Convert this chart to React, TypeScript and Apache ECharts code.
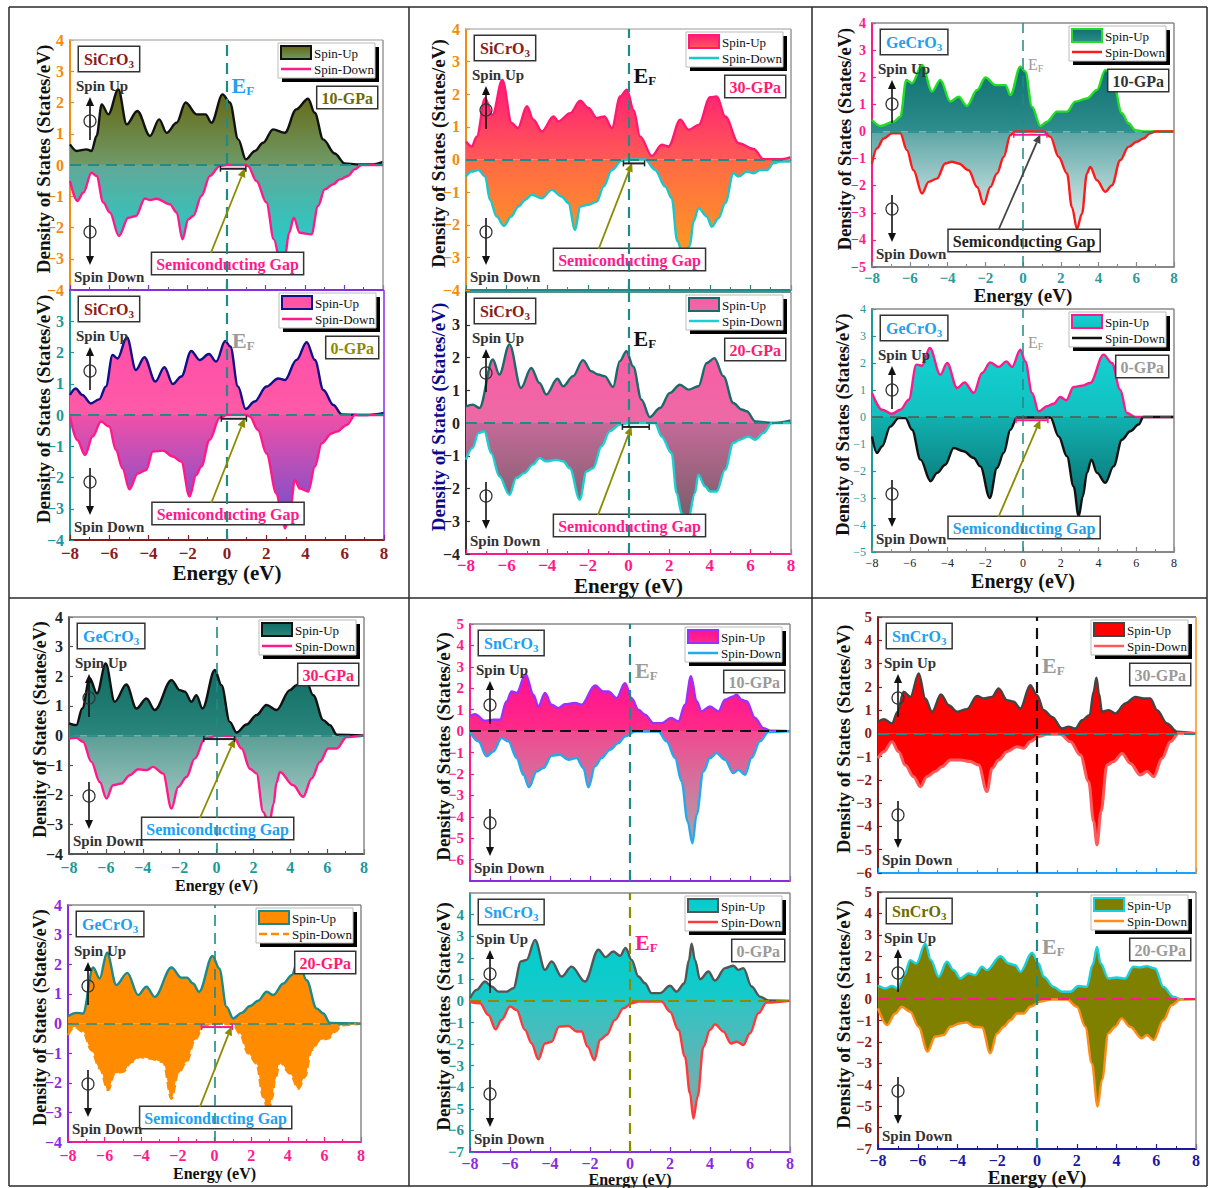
import React, { useEffect, useRef } from "react";
import * as echarts from "echarts";

type Pt = [number, number];
type Fill = string | [string, string];

const SERIF = "'Liberation Serif', 'Times New Roman', Times, serif";

// shared energy axis (eV)
const energyTicks = [-8, -6, -4, -2, 0, 2, 4, 6, 8];
// DOS axis ranges (States/eV)
const dosRange4 = [-4, 4];
const dosRange45 = [-5, 4];
const dosRange57 = [-7, 5];
const dosRange56 = [-6, 5];

// ---------- SiCrO3 ----------
const siCrO3_10_up: Pt[] = [[-8,0.66],[-7.66,0.45],[-7.15,0.5],[-6.9,0.45],[-6.64,0.93],[-6.38,1.94],[-6.04,1.62],[-5.53,2.42],[-5.1,1.3],[-4.56,1.73],[-3.91,0.93],[-3.44,1.46],[-3.06,1.03],[-2.55,1.35],[-2.09,2.0],[-1.53,1.62],[-1.07,1.62],[-0.77,1.35],[-0.2,2.26],[0.17,2.0],[0.6,0.82],[0.99,0.18],[1.45,0.45],[1.87,0.71],[2.38,1.14],[2.98,1.03],[3.57,1.78],[4.17,2.12],[4.51,1.67],[4.94,0.82],[5.53,0.37],[6.04,0.05],[6.64,0.02],[7.5,0.02],[8,0.1]];
const siCrO3_10_down: Pt[] = [[-8,-0.51],[-7.63,-1.15],[-7.32,-0.89],[-6.9,-0.25],[-6.64,-0.35],[-6.3,-1.2],[-5.96,-1.52],[-5.5,-2.27],[-5.02,-1.69],[-4.63,-1.63],[-4.17,-1.07],[-3.91,-1.12],[-3.57,-1.08],[-2.89,-1.26],[-2.55,-1.52],[-2.25,-2.38],[-1.96,-1.74],[-1.7,-1.63],[-1.28,-0.99],[-0.85,-0.35],[-0.34,-0.03],[0,0],[1.0,0],[1.1,-0.03],[1.53,-0.51],[2.04,-1.2],[2.42,-2.38],[2.75,-3.1],[2.98,-2.95],[3.2,-2.17],[3.44,-1.69],[3.74,-2.17],[4.34,-2.22],[4.68,-1.31],[5.02,-0.78],[5.45,-0.62],[5.79,-0.46],[6.21,-0.35],[6.55,-0.14],[6.9,0],[8,0]];
const siCrO3_0_up: Pt[] = [[-8,0.64],[-7.71,0.85],[-7.37,0.64],[-6.94,0.37],[-6.51,0.5],[-6.17,0.91],[-5.83,1.92],[-5.58,1.81],[-5.1,2.49],[-4.64,1.44],[-4.21,1.85],[-3.65,1.07],[-3.19,1.53],[-2.76,0.99],[-2.33,1.23],[-1.82,2.05],[-1.4,1.76],[-0.92,1.95],[-0.55,1.71],[-0.09,2.37],[0.17,2.19],[0.56,0.91],[0.95,0.19],[1.41,0.43],[2.01,0.91],[2.61,1.17],[2.95,1.12],[3.54,1.76],[4.06,2.33],[4.48,1.76],[4.91,0.8],[5.42,0.32],[5.84,0.02],[7.12,0],[8,0.07]];
const siCrO3_0_down: Pt[] = [[-8,-0.05],[-7.63,-0.8],[-7.23,-1.28],[-6.85,-0.69],[-6.42,-0.21],[-6.0,-0.37],[-5.66,-1.12],[-5.32,-1.71],[-4.97,-2.38],[-4.55,-1.87],[-4.12,-1.76],[-3.78,-1.17],[-3.27,-1.14],[-2.76,-1.33],[-2.33,-1.49],[-1.91,-2.61],[-1.57,-1.92],[-1.31,-1.65],[-0.89,-0.8],[-0.37,-0.09],[0,0],[1.0,0],[1.16,-0.05],[1.58,-0.48],[2.01,-1.23],[2.52,-2.51],[2.78,-3.15],[2.95,-3.63],[3.2,-3.15],[3.46,-2.08],[3.71,-2.35],[4.14,-2.45],[4.48,-1.65],[4.82,-0.91],[5.33,-0.59],[5.59,-0.53],[6.1,-0.32],[6.53,0],[8,0]];
const siCrO3_30_up: Pt[] = [[-8,0.55],[-7.72,0.4],[-7.47,0.7],[-7.06,1.88],[-6.7,1.37],[-6.21,2.44],[-5.75,1.12],[-5.45,0.96],[-5.0,1.63],[-4.68,1.22],[-4.27,0.86],[-3.69,1.32],[-3.45,1.17],[-2.87,1.42],[-2.38,1.8],[-1.97,1.58],[-1.56,1.27],[-1.18,1.32],[-0.82,0.96],[-0.41,1.93],[-0.08,2.14],[0.25,1.52],[0.57,0.71],[1.15,0.11],[1.64,0.45],[1.97,0.4],[2.55,1.22],[2.96,0.91],[3.45,1.06],[4.02,1.91],[4.35,1.93],[4.76,1.32],[5.42,0.5],[6.16,0.32],[6.65,0.01],[7.55,0.01],[8,0.07]];
const siCrO3_30_down: Pt[] = [[-8,-0.52],[-7.72,-0.37],[-7.39,-0.32],[-7.06,-0.52],[-6.82,-1.24],[-6.49,-1.75],[-6.13,-2.04],[-5.78,-1.75],[-5.42,-1.44],[-5.09,-1.24],[-4.76,-1.08],[-4.27,-1.19],[-3.78,-0.93],[-3.28,-1.14],[-2.96,-1.34],[-2.63,-2.16],[-2.38,-1.44],[-1.97,-1.39],[-1.56,-1.29],[-1.23,-0.83],[-0.82,-0.32],[-0.33,-0.03],[0,0],[0.82,0],[1.31,-0.32],[1.81,-0.83],[2.13,-1.19],[2.4,-2.5],[2.72,-3.0],[3.02,-2.65],[3.2,-1.9],[3.45,-1.49],[3.86,-1.75],[4.1,-2.06],[4.43,-1.8],[4.76,-1.34],[5.17,-0.42],[5.42,-0.52],[5.83,-0.37],[6.16,-0.42],[6.49,-0.32],[6.82,-0.32],[7.14,-0.11],[7.47,-0.06],[8,-0.06]];
const siCrO3_20_up: Pt[] = [[-8,0.51],[-7.67,0.56],[-7.34,0.46],[-6.68,1.94],[-6.36,1.48],[-5.86,2.4],[-5.29,1.07],[-4.79,1.68],[-4.38,1.22],[-4.05,0.87],[-3.5,1.35],[-3.22,1.12],[-2.73,1.43],[-2.24,1.92],[-1.83,1.58],[-1.5,1.48],[-1.17,1.43],[-0.76,1.1],[-0.43,1.89],[-0.1,2.19],[0.23,1.73],[0.64,0.71],[1.05,0.18],[1.55,0.46],[2.04,0.92],[2.53,1.17],[2.95,1.02],[3.44,1.12],[3.85,1.83],[4.23,1.98],[4.67,1.43],[5.16,0.61],[5.57,0.41],[5.82,0.36],[6.24,0.05],[7.06,0],[8,0.08]];
const siCrO3_20_down: Pt[] = [[-8,-1.12],[-7.67,-0.76],[-7.39,-0.31],[-7.1,-0.25],[-6.76,-0.92],[-6.36,-1.63],[-5.86,-2.19],[-5.53,-1.68],[-5.13,-1.53],[-4.71,-1.27],[-4.38,-1.07],[-4.05,-1.17],[-3.55,-1.12],[-3.22,-1.17],[-2.89,-1.38],[-2.4,-2.34],[-2.07,-1.48],[-1.74,-1.38],[-1.33,-0.71],[-0.92,-0.25],[-0.43,-0.05],[0,0],[1.3,0],[1.63,-0.41],[2.12,-0.92],[2.37,-2.14],[2.62,-2.76],[2.95,-2.9],[3.27,-2.14],[3.44,-1.58],[3.77,-1.94],[4.01,-2.09],[4.34,-2.09],[4.75,-1.43],[5.16,-0.61],[5.49,-0.51],[5.9,-0.41],[6.23,-0.51],[6.64,-0.31],[7.06,0],[8,0]];

// ---------- GeCrO3 ----------
const geCrO3_10_up: Pt[] = [[-8,0.42],[-7.56,0.2],[-6.85,0.36],[-6.5,0.54],[-6.18,1.9],[-5.88,1.78],[-5.35,2.45],[-4.82,1.47],[-4.38,1.9],[-3.85,1.1],[-3.41,1.28],[-2.97,0.94],[-2.43,1.53],[-1.99,1.99],[-1.46,1.71],[-0.93,1.71],[-0.67,1.34],[-0.14,2.39],[0.12,2.21],[0.48,0.91],[0.92,0.2],[1.27,0.36],[1.8,0.73],[2.33,0.73],[2.77,1.1],[3.39,1.22],[3.92,1.53],[4.36,2.27],[4.71,2.08],[5.24,0.67],[5.59,0.3],[5.94,0.05],[6.38,0],[8,0]];
const geCrO3_10_down: Pt[] = [[-8,-1.18],[-7.74,-0.63],[-7.38,-0.26],[-6.94,-0.07],[-6.5,-0.07],[-6.15,-0.69],[-5.8,-1.43],[-5.35,-2.29],[-5.0,-1.86],[-4.56,-1.74],[-4.12,-1.18],[-3.77,-1.12],[-3.41,-1.18],[-2.88,-1.43],[-2.43,-2.05],[-2.08,-2.69],[-1.73,-2.05],[-1.38,-1.55],[-1.02,-0.94],[-0.67,-0.14],[-0.41,0],[1.09,0],[1.45,-0.2],[1.89,-0.94],[2.33,-1.55],[2.59,-2.79],[2.86,-3.59],[3.12,-3.04],[3.39,-1.55],[3.56,-1.31],[3.92,-1.8],[4.36,-2.23],[4.71,-1.99],[5.15,-1.06],[5.59,-0.57],[6.03,-0.38],[6.38,-0.26],[6.73,-0.07],[7.0,0],[8,0]];
const geCrO3_0_up: Pt[] = [[-8,0.89],[-7.47,0.27],[-6.94,0.12],[-6.5,0.27],[-6.05,0.64],[-5.65,1.94],[-5.35,1.9],[-4.94,2.56],[-4.38,1.57],[-4.02,2.0],[-3.49,1.07],[-3.1,1.28],[-2.61,0.89],[-2.17,1.63],[-1.73,2.02],[-1.29,1.85],[-0.88,2.06],[-0.58,1.85],[-0.14,2.49],[0.12,2.06],[0.48,0.89],[0.83,0.21],[1.27,0.4],[1.62,0.49],[1.98,0.74],[2.29,0.62],[2.68,1.11],[3.12,1.16],[3.56,1.26],[4.27,2.31],[4.71,2.0],[5.15,1.01],[5.5,0.15],[5.94,0],[8,0]];
const geCrO3_0_down: Pt[] = [[-8,-0.72],[-7.74,-1.33],[-7.47,-1.09],[-7.03,-0.35],[-6.59,-0.04],[-6.23,-0.04],[-5.88,-0.47],[-5.43,-1.58],[-4.9,-2.38],[-4.55,-2.07],[-4.12,-1.77],[-3.67,-1.15],[-3.15,-1.27],[-2.61,-1.52],[-2.26,-1.83],[-1.76,-3.0],[-1.38,-1.89],[-1.02,-1.33],[-0.67,-0.47],[-0.32,-0.02],[1.45,-0.02],[1.89,-0.72],[2.33,-1.46],[2.68,-2.57],[2.95,-3.68],[3.17,-2.94],[3.39,-2.07],[3.62,-1.58],[3.92,-2.07],[4.36,-2.44],[4.8,-1.83],[5.24,-0.84],[5.68,-0.53],[6.12,-0.28],[6.38,0],[8,0]];
const geCrO3_30_up: Pt[] = [[-8,0.41],[-7.6,0.35],[-7.28,0.91],[-6.88,1.93],[-6.48,1.42],[-6.01,2.43],[-5.52,1.14],[-4.89,1.72],[-4.34,0.91],[-3.8,1.25],[-3.35,0.86],[-2.44,1.87],[-1.99,1.53],[-1.72,1.48],[-1.36,1.14],[-1.09,1.36],[-0.76,0.91],[-0.09,2.21],[0.27,1.7],[0.72,0.46],[1.09,0.1],[1.63,0.37],[2.17,0.69],[2.71,1.03],[3.26,0.86],[3.98,1.53],[4.34,1.7],[4.74,2.1],[5.25,1.36],[5.79,0.52],[6.15,0.35],[6.52,0.03],[8,0]];
const geCrO3_30_down: Pt[] = [[-8,-0.1],[-7.6,-0.08],[-7.24,-0.21],[-6.79,-0.89],[-6.33,-1.57],[-5.97,-2.13],[-5.61,-1.68],[-5.16,-1.62],[-4.71,-1.34],[-4.25,-1.14],[-3.8,-1.17],[-3.44,-1.06],[-2.9,-1.28],[-2.44,-2.47],[-2.08,-1.74],[-1.63,-1.4],[-1.18,-0.78],[-0.63,-0.1],[0,-0.02],[0.9,-0.02],[1.36,-0.44],[1.81,-1.12],[2.17,-1.28],[2.53,-2.58],[2.85,-3.0],[3.1,-2.3],[3.25,-1.6],[3.44,-1.23],[4.16,-1.68],[4.7,-2.07],[5.16,-1.45],[5.61,-0.89],[6.06,-0.44],[6.52,-0.44],[7.06,-0.05],[8,0]];
const geCrO3_20_up: Pt[] = [[-8,0.25],[-7.54,0.36],[-7.18,0.34],[-6.63,1.89],[-6.27,1.52],[-5.87,2.39],[-5.36,1.3],[-4.76,1.71],[-4.17,0.96],[-3.72,1.24],[-3.26,0.9],[-2.35,1.89],[-1.81,1.55],[-1.5,1.55],[-1.17,1.35],[-0.84,1.07],[-0.11,2.28],[0.26,1.86],[0.66,0.56],[1.02,0.17],[1.48,0.36],[1.94,0.59],[2.39,0.77],[2.85,1.07],[3.21,0.96],[3.76,1.35],[4.21,1.63],[4.58,2.16],[5.03,1.46],[5.57,0.51],[5.94,0.34],[6.3,0.02],[8,0]];
const geCrO3_20_down: Pt[] = [[-8,-0.39],[-7.64,-0.11],[-7.18,-0.28],[-6.72,-0.9],[-6.27,-1.52],[-5.81,-2.25],[-5.45,-1.69],[-4.99,-1.63],[-4.53,-1.3],[-4.08,-1.13],[-3.53,-1.18],[-2.8,-1.3],[-2.35,-2.54],[-1.98,-1.69],[-1.53,-1.3],[-1.07,-0.56],[-0.62,-0.11],[0,-0.02],[1.02,-0.02],[1.38,-0.34],[1.84,-1.01],[2.29,-1.35],[2.66,-2.48],[2.95,-3.0],[3.15,-2.5],[3.3,-1.92],[3.57,-1.3],[4.12,-1.69],[4.58,-2.2],[4.94,-1.8],[5.3,-0.9],[5.76,-0.56],[6.21,-0.51],[6.58,-0.28],[6.94,-0.06],[8,0]];

// ---------- SnCrO3 ----------
const snCrO3_10_up: Pt[] = [[-8,0.69],[-7.75,0.79],[-7.25,0.48],[-6.83,0.53],[-6.5,0.53],[-6.17,1.39],[-5.92,1.85],[-5.67,1.78],[-5.22,2.66],[-4.83,1.7],[-4.58,1.15],[-4.25,1.78],[-3.92,1.23],[-3.58,1.08],[-3.25,1.26],[-2.75,1.31],[-2.42,1.23],[-1.75,2.13],[-1.33,1.85],[-1.08,1.85],[-0.67,1.54],[-0.25,2.24],[0.08,1.54],[0.42,1.0],[0.75,0.76],[1.17,0.37],[1.58,0.37],[2.05,0.61],[2.42,0.45],[2.75,1.23],[3.05,2.56],[3.33,1.39],[3.58,0.92],[4.0,1.15],[4.42,0.92],[4.75,1.46],[5.17,1.62],[5.33,1.7],[5.58,1.46],[5.83,1.39],[6.25,0.61],[6.67,0.14],[7.0,0.02],[8,0]];
const snCrO3_10_down: Pt[] = [[-8,-0.05],[-7.58,-0.48],[-7.17,-1.18],[-6.83,-0.95],[-6.42,-0.33],[-6.08,-0.48],[-5.67,-1.26],[-5.33,-2.04],[-5.05,-2.62],[-4.67,-1.89],[-4.33,-1.73],[-3.92,-1.15],[-3.5,-1.11],[-3.08,-1.34],[-2.67,-1.26],[-2.33,-1.73],[-2.08,-2.63],[-1.75,-1.65],[-1.42,-1.26],[-1.0,-0.87],[-0.58,-0.56],[-0.25,-0.25],[0.25,-0.02],[1.42,-0.02],[1.83,-0.48],[2.25,-1.26],[2.58,-2.35],[2.88,-4.22],[3.12,-5.24],[3.33,-3.91],[3.67,-1.89],[4.0,-1.26],[4.33,-1.03],[4.75,-1.34],[5.17,-1.96],[5.42,-1.81],[5.75,-2.04],[6.08,-1.26],[6.5,-0.48],[6.92,-0.05],[8,0]];
const snCrO3_0_up: Pt[] = [[-8,0.12],[-7.67,0.51],[-7.25,0.9],[-6.92,0.67],[-6.58,0.43],[-6.17,0.43],[-5.83,0.59],[-5.45,1.83],[-5.17,1.9],[-4.75,2.83],[-4.25,1.44],[-3.92,1.83],[-3.42,1.13],[-2.92,1.59],[-2.25,0.9],[-1.58,2.37],[-1.22,2.03],[-0.83,2.29],[-0.5,2.09],[-0.22,2.45],[0.08,1.9],[0.42,1.13],[0.75,0.82],[1.08,0.36],[1.5,0.36],[2.0,0.7],[2.33,0.43],[2.72,0.82],[2.95,1.9],[3.08,2.65],[3.25,1.9],[3.5,1.0],[3.92,1.36],[4.25,0.94],[4.75,1.52],[5.17,1.63],[5.42,1.44],[5.67,1.52],[6.08,0.67],[6.5,0.2],[6.92,0.02],[8,0]];
const snCrO3_0_down: Pt[] = [[-8,-0.05],[-7.5,-0.11],[-7.08,-0.65],[-6.72,-1.32],[-6.42,-0.88],[-6.0,-0.26],[-5.67,-0.42],[-5.25,-1.35],[-4.92,-1.97],[-4.58,-2.71],[-4.25,-1.97],[-3.92,-1.89],[-3.55,-1.19],[-3.08,-1.16],[-2.67,-1.42],[-2.42,-1.42],[-2.12,-2.12],[-1.78,-2.74],[-1.5,-1.81],[-1.17,-1.58],[-0.75,-0.88],[-0.33,-0.34],[0.08,-0.11],[0.42,-0.03],[1.58,-0.03],[2.0,-0.5],[2.42,-1.35],[2.75,-2.59],[3.0,-4.29],[3.17,-5.45],[3.38,-4.44],[3.67,-2.12],[4.0,-1.35],[4.25,-1.08],[4.67,-1.42],[5.05,-1.97],[5.33,-1.89],[5.67,-2.04],[6.0,-1.5],[6.42,-0.57],[6.83,-0.08],[8,0]];
const snCrO3_30_up: Pt[] = [[-8,0.5],[-7.71,0.61],[-7.3,0.43],[-7.01,0.93],[-6.71,1.79],[-6.37,1.57],[-5.95,2.57],[-5.62,1.5],[-5.28,0.93],[-4.83,1.67],[-4.44,1.21],[-4.02,0.93],[-3.52,1.04],[-3.02,1.61],[-2.68,1.5],[-2.26,1.57],[-1.93,1.93],[-1.51,1.43],[-1.17,1.36],[-0.84,1.07],[-0.34,2.07],[0,1.64],[0.34,1.0],[0.76,0.71],[1.26,0.21],[1.59,0.29],[1.93,0.21],[2.27,0.57],[2.65,0.79],[2.85,1.8],[2.99,2.39],[3.12,1.7],[3.27,0.93],[3.61,1.0],[3.94,0.86],[4.45,1.29],[4.95,1.57],[5.37,1.5],[5.7,1.5],[6.04,1.0],[6.54,0.43],[7.05,0.07],[8,0]];
const snCrO3_30_down: Pt[] = [[-8,-1.07],[-7.71,-0.79],[-7.3,-0.36],[-6.96,-0.79],[-6.63,-1.36],[-6.21,-1.86],[-5.87,-2.29],[-5.54,-1.86],[-5.12,-1.64],[-4.78,-1.43],[-4.36,-1.14],[-3.86,-1.14],[-3.36,-1.21],[-2.94,-1.36],[-2.52,-2.5],[-2.26,-1.5],[-1.93,-1.14],[-1.51,-0.79],[-1.01,-0.57],[-0.67,-0.64],[-0.34,-0.36],[0.08,-0.14],[0.5,-0.04],[1.17,-0.04],[1.68,-0.36],[2.18,-0.93],[2.6,-2.07],[2.85,-3.79],[3.02,-4.79],[3.22,-3.36],[3.52,-1.36],[3.86,-1.21],[4.28,-0.86],[4.7,-1.29],[5.2,-1.79],[5.54,-1.64],[5.87,-1.86],[6.29,-1.07],[6.71,-0.36],[7.13,0],[8,0]];
const snCrO3_20_up: Pt[] = [[-8,0.65],[-7.63,0.5],[-7.3,0.61],[-7.01,0.5],[-6.68,1.12],[-6.38,1.82],[-6.07,1.66],[-5.62,2.59],[-5.34,1.82],[-4.95,1.04],[-4.53,1.74],[-4.19,1.35],[-3.86,0.96],[-3.44,1.2],[-3.11,1.12],[-2.77,1.51],[-2.52,1.35],[-1.84,2.0],[-1.42,1.66],[-1.09,1.58],[-0.84,1.27],[-0.25,2.16],[0.08,1.66],[0.34,1.04],[0.84,0.57],[1.26,0.34],[1.68,0.34],[2.09,0.61],[2.51,0.57],[2.8,1.6],[3.02,2.44],[3.2,1.66],[3.59,0.96],[4.01,1.01],[4.43,0.96],[4.85,1.51],[5.18,1.48],[5.52,1.54],[5.94,1.43],[6.36,0.57],[6.86,0.11],[7.2,0],[8,0]];
const snCrO3_20_down: Pt[] = [[-8,-0.43],[-7.55,-1.21],[-7.13,-0.67],[-6.8,-0.36],[-6.38,-0.59],[-5.96,-1.29],[-5.51,-2.45],[-5.12,-1.75],[-4.7,-1.68],[-4.36,-1.29],[-3.86,-1.13],[-3.53,-1.09],[-3.19,-1.29],[-2.77,-1.32],[-2.35,-2.53],[-2.01,-1.6],[-1.68,-1.29],[-1.34,-0.98],[-1.01,-0.67],[-0.67,-0.67],[-0.34,-0.36],[0.17,-0.12],[0.67,-0.02],[1.51,-0.02],[2.01,-0.36],[2.43,-1.29],[2.76,-3.0],[3.05,-5.02],[3.27,-3.77],[3.59,-1.6],[3.93,-1.29],[4.26,-0.9],[4.68,-1.29],[5.27,-1.83],[5.52,-1.68],[5.86,-1.91],[6.36,-0.98],[6.78,-0.28],[7.2,-0.02],[8,0]];

interface Gap { from: number; to: number; bar: string; text: string; arrow: string; arrowFrom: number; arrowTo: number; top: number }
interface Panel {
  rect: [number, number, number, number];
  yRange: number[];
  up: Pt[]; down: Pt[];
  compound: string; compoundColor: string;
  pressure: string; pressureColor: string;
  upLine: string; downLine: string; downDashed?: boolean; downWidth?: number;
  upFill: Fill; downFill: Fill;
  yColor: string; yLine: string; yLabelSize: number; yLabelBold: boolean; hideTopLabel?: boolean;
  minLabelUp?: boolean; maxLabelDown?: boolean;
  xColor: string; xLine: string; xLabels: boolean; xLabelSize: number; xLabelBold: boolean; xLabelMargin: number;
  topColor: string; rightColor: string;
  efLine: string; zeroLine: string; refWidth: number;
  ef?: { color: string; size: number; bold: boolean; dy: number };
  yTitle: { dx: number; size: number; color: string };
  xTitle?: { y: number; size: number };
  gap?: Gap;
}

const TEAL = "#1f8a86";
const OLIVE = "#8b8b00";
const PINK = "#ff1a8c";
const PURPLE = "#8a2be2";
const MAROON = "#8b1a1a";
const SKY = "#1ea0f0";

const PANELS: Panel[] = [
  { // SiCrO3 10 GPa
    rect: [70, 40, 313, 250], yRange: dosRange4, up: siCrO3_10_up, down: siCrO3_10_down,
    compound: "SiCrO", compoundColor: MAROON, pressure: "10-GPa", pressureColor: "#6b6b00",
    upLine: "#111", downLine: PINK, upFill: ["#66660f", "#6f9a68"], downFill: ["#62a898", "#18d4d4"],
    yColor: "#f08c10", yLine: "#f08c10", yLabelSize: 16, yLabelBold: true,
    xColor: PURPLE, xLine: PURPLE, xLabels: false, xLabelSize: 16, xLabelBold: true, xLabelMargin: 6,
    topColor: "#bbb", rightColor: "#999", efLine: TEAL, zeroLine: TEAL, refWidth: 2.2,
    ef: { color: "#2a9df4", size: 22, bold: true, dy: 33 },
    yTitle: { dx: 27, size: 19, color: "#111" },
    gap: { from: -0.31, to: 0.99, bar: "#222", text: PINK, arrow: OLIVE, arrowFrom: -0.8, arrowTo: 0.94, top: 37 },
  },
  { // SiCrO3 0 GPa
    rect: [70, 290, 314, 250], yRange: dosRange4, up: siCrO3_0_up, down: siCrO3_0_down,
    compound: "SiCrO", compoundColor: MAROON, pressure: "0-GPa", pressureColor: OLIVE,
    upLine: "#10108a", downLine: PINK, upFill: ["#ff4fa8", "#ff5aa8"], downFill: ["#f050a8", "#6a4fd0"],
    yColor: "#1a9a9a", yLine: "#1a9a9a", yLabelSize: 16, yLabelBold: true, hideTopLabel: true,
    xColor: MAROON, xLine: MAROON, xLabels: true, xLabelSize: 17, xLabelBold: true, xLabelMargin: 5,
    topColor: PURPLE, rightColor: PURPLE, efLine: TEAL, zeroLine: TEAL, refWidth: 2.2,
    ef: { color: "#9a9a9a", size: 22, bold: true, dy: 38 },
    yTitle: { dx: 27, size: 19, color: "#111" },
    xTitle: { y: 573, size: 21 },
    gap: { from: -0.29, to: 0.99, bar: "#222", text: PINK, arrow: OLIVE, arrowFrom: -0.8, arrowTo: 0.9, top: 37 },
  },
  { // SiCrO3 30 GPa
    rect: [466, 29, 325, 261], yRange: dosRange4, up: siCrO3_30_up, down: siCrO3_30_down,
    compound: "SiCrO", compoundColor: MAROON, pressure: "30-GPa", pressureColor: "#ff1a70",
    upLine: "#ff1a70", downLine: "#1ac8c8", upFill: ["#ff1a78", "#ff5a55"], downFill: ["#ff6a45", "#ff9a20"],
    yColor: "#f08c10", yLine: "#f08c10", yLabelSize: 16, yLabelBold: true,
    xColor: TEAL, xLine: TEAL, xLabels: false, xLabelSize: 16, xLabelBold: true, xLabelMargin: 6,
    topColor: "#bbb", rightColor: "#999", efLine: TEAL, zeroLine: TEAL, refWidth: 2.2,
    ef: { color: "#111", size: 22, bold: true, dy: 34 },
    yTitle: { dx: 28, size: 19, color: "#111" },
    gap: { from: -0.25, to: 0.79, bar: "#222", text: PINK, arrow: OLIVE, arrowFrom: -1.47, arrowTo: 0.18, top: 41 },
  },
  { // SiCrO3 20 GPa
    rect: [466, 292, 325, 262], yRange: dosRange4, up: siCrO3_20_up, down: siCrO3_20_down,
    compound: "SiCrO", compoundColor: MAROON, pressure: "20-GPa", pressureColor: "#ff1a70",
    upLine: "#1a6a6a", downLine: "#1ad0d0", upFill: ["#ff5aa5", "#ea6aa5"], downFill: ["#c46a98", "#7a5e6a"],
    yColor: "#222", yLine: "#333", yLabelSize: 16, yLabelBold: true, hideTopLabel: true,
    xColor: PINK, xLine: PINK, xLabels: true, xLabelSize: 17, xLabelBold: true, xLabelMargin: 3,
    topColor: "#1a6a6a", rightColor: "#999", efLine: TEAL, zeroLine: TEAL, refWidth: 2.2,
    ef: { color: "#111", size: 22, bold: true, dy: 34 },
    yTitle: { dx: 28, size: 19, color: "#0a0a8a" },
    xTitle: { y: 586, size: 21 },
    gap: { from: -0.3, to: 1.02, bar: "#222", text: PINK, arrow: OLIVE, arrowFrom: -1.5, arrowTo: 0.15, top: 39 },
  },
  { // GeCrO3 10 GPa
    rect: [872, 23, 302, 244], yRange: dosRange45, up: geCrO3_10_up, down: geCrO3_10_down,
    compound: "GeCrO", compoundColor: SKY, pressure: "10-GPa", pressureColor: "#333",
    upLine: "#22dd22", downLine: "#ff1a1a", upFill: ["#0e7070", "#2e8d8d"], downFill: ["#5ea5a5", "#e6f3f3"],
    yColor: PINK, yLine: PINK, yLabelSize: 14, yLabelBold: true,
    xColor: "#2a9a9a", xLine: "#888", xLabels: true, xLabelSize: 15, xLabelBold: true, xLabelMargin: 3,
    topColor: "#888", rightColor: "#888", efLine: TEAL, zeroLine: TEAL, refWidth: 1.5,
    ef: { color: "#9a9a9a", size: 16, bold: false, dy: 32 },
    yTitle: { dx: 27, size: 18.5, color: "#111" },
    xTitle: { y: 295, size: 19 },
    gap: { from: -0.49, to: 1.27, bar: PINK, text: "#222", arrow: "#444", arrowFrom: -1.3, arrowTo: 0.92, top: 37 },
  },
  { // GeCrO3 0 GPa
    rect: [872, 309, 302, 243], yRange: dosRange45, up: geCrO3_0_up, down: geCrO3_0_down,
    compound: "GeCrO", compoundColor: SKY, pressure: "0-GPa", pressureColor: "#9a9a9a",
    upLine: PINK, downLine: "#111", upFill: ["#14d2d2", "#12c0c0"], downFill: ["#12b0b0", "#086868"],
    yColor: "#1a9a9a", yLine: "#1a9a9a", yLabelSize: 12, yLabelBold: false,
    xColor: "#222", xLine: "#888", xLabels: true, xLabelSize: 12, xLabelBold: false, xLabelMargin: 5,
    topColor: "#888", rightColor: "#888", efLine: TEAL, zeroLine: "#555", refWidth: 1.5,
    ef: { color: "#9a9a9a", size: 16, bold: false, dy: 24 },
    yTitle: { dx: 29, size: 18.5, color: "#111" },
    xTitle: { y: 581, size: 20 },
    gap: { from: -0.37, to: 1.32, bar: PINK, text: SKY, arrow: OLIVE, arrowFrom: -1.3, arrowTo: 0.92, top: 35 },
  },
  { // GeCrO3 30 GPa
    rect: [69, 617, 295, 237], yRange: dosRange4, up: geCrO3_30_up, down: geCrO3_30_down,
    compound: "GeCrO", compoundColor: SKY, pressure: "30-GPa", pressureColor: "#ff1a70",
    upLine: "#111", downLine: PINK, upFill: ["#0e6a62", "#2a857c"], downFill: ["#5c9e96", "#b2d2cc"],
    yColor: "#222", yLine: "#555", yLabelSize: 16, yLabelBold: true,
    xColor: "#1a9a9a", xLine: "#555", xLabels: true, xLabelSize: 16, xLabelBold: true, xLabelMargin: 5,
    topColor: "#888", rightColor: "#888", efLine: TEAL, zeroLine: TEAL, refWidth: 1.6,
    yTitle: { dx: 29, size: 18, color: "#111" },
    xTitle: { y: 885, size: 16 },
    gap: { from: -0.69, to: 0.98, bar: "#222", text: SKY, arrow: OLIVE, arrowFrom: -0.9, arrowTo: 1.0, top: 36 },
  },
  { // GeCrO3 20 GPa
    rect: [68, 905, 293, 237], yRange: dosRange4, up: geCrO3_20_up, down: geCrO3_20_down,
    compound: "GeCrO", compoundColor: SKY, pressure: "20-GPa", pressureColor: "#ff1a70",
    upLine: "#1a8a8a", downLine: "#ff8c00", downDashed: true, upFill: "#ff8c00", downFill: "#ff8c00",
    yColor: PURPLE, yLine: PURPLE, yLabelSize: 16, yLabelBold: true,
    xColor: PINK, xLine: PINK, xLabels: true, xLabelSize: 16, xLabelBold: true, xLabelMargin: 5,
    topColor: "#888", rightColor: "#888", efLine: TEAL, zeroLine: TEAL, refWidth: 1.6,
    yTitle: { dx: 28, size: 18, color: "#111" },
    xTitle: { y: 1173, size: 16 },
    gap: { from: -0.71, to: 0.97, bar: PINK, text: SKY, arrow: OLIVE, arrowFrom: -0.8, arrowTo: 0.93, top: 35 },
  },
  { // SnCrO3 10 GPa
    rect: [470, 624, 320, 257], yRange: dosRange57, up: snCrO3_10_up, down: snCrO3_10_down,
    compound: "SnCrO", compoundColor: SKY, pressure: "10-GPa", pressureColor: "#9a9a9a",
    upLine: "#9b30ff", downLine: "#22aaee", upFill: ["#ff1090", "#ff2a88"], downFill: ["#f04a90", "#b0a2a8"],
    yColor: PINK, yLine: PINK, yLabelSize: 15, yLabelBold: true, minLabelUp: true,
    xColor: PURPLE, xLine: PURPLE, xLabels: false, xLabelSize: 16, xLabelBold: true, xLabelMargin: 5,
    topColor: "#888", rightColor: "#888", efLine: TEAL, zeroLine: "#111", refWidth: 2.2,
    ef: { color: "#9a9a9a", size: 22, bold: true, dy: 34 },
    yTitle: { dx: 27, size: 19, color: "#111" },
  },
  { // SnCrO3 0 GPa
    rect: [470, 893, 320, 259], yRange: dosRange57, up: snCrO3_0_up, down: snCrO3_0_down,
    compound: "SnCrO", compoundColor: SKY, pressure: "0-GPa", pressureColor: "#9a9a9a",
    upLine: "#555", downLine: "#ff3a3a", upFill: ["#00cccc", "#18caca"], downFill: ["#30c4c4", "#8aa6a6"],
    yColor: "#1a9a9a", yLine: "#1a9a9a", yLabelSize: 15, yLabelBold: true, maxLabelDown: true,
    xColor: PURPLE, xLine: PURPLE, xLabels: true, xLabelSize: 16, xLabelBold: true, xLabelMargin: 3,
    topColor: "#888", rightColor: "#888", efLine: OLIVE, zeroLine: OLIVE, refWidth: 2.2,
    ef: { color: PINK, size: 22, bold: true, dy: 37 },
    yTitle: { dx: 27, size: 19, color: "#111" },
    xTitle: { y: 1179, size: 16 },
  },
  { // SnCrO3 30 GPa
    rect: [878, 617, 318, 256], yRange: dosRange56, up: snCrO3_30_up, down: snCrO3_30_down,
    compound: "SnCrO", compoundColor: SKY, pressure: "30-GPa", pressureColor: "#9a9a9a",
    upLine: "#444", downLine: "#ff5a5a", downWidth: 3, upFill: "#ff0000", downFill: "#ff0000",
    yColor: MAROON, yLine: MAROON, yLabelSize: 15, yLabelBold: true,
    xColor: "#1aa0ff", xLine: "#1aa0ff", xLabels: false, xLabelSize: 16, xLabelBold: true, xLabelMargin: 5,
    topColor: "#555", rightColor: "#ff8c1a", efLine: "#111", zeroLine: TEAL, refWidth: 2.2,
    ef: { color: "#9a9a9a", size: 22, bold: true, dy: 36 },
    yTitle: { dx: 35, size: 19, color: "#111" },
  },
  { // SnCrO3 20 GPa
    rect: [878, 892, 318, 257], yRange: dosRange57, up: snCrO3_20_up, down: snCrO3_20_down,
    compound: "SnCrO", compoundColor: "#6b6b00", pressure: "20-GPa", pressureColor: "#9a9a9a",
    upLine: "#18d0e0", downLine: "#ff8c1a", upFill: "#808000", downFill: "#808000",
    yColor: MAROON, yLine: MAROON, yLabelSize: 15, yLabelBold: true,
    xColor: "#1a1aa0", xLine: "#1a1aa0", xLabels: true, xLabelSize: 16, xLabelBold: true, xLabelMargin: 3,
    topColor: "#555", rightColor: "#888", efLine: TEAL, zeroLine: PINK, refWidth: 2.2,
    ef: { color: "#9a9a9a", size: 22, bold: true, dy: 42 },
    yTitle: { dx: 35, size: 19, color: "#111" },
    xTitle: { y: 1177, size: 19 },
  },
];

const fmt = (v: number) => (v < 0 ? "\u2212" + Math.abs(v) : String(v));

function fillOf(f: Fill): any {
  if (typeof f === "string") return f;
  return new echarts.graphic.LinearGradient(0, 0, 0, 1, [
    { offset: 0, color: f[0] },
    { offset: 1, color: f[1] },
  ]);
}

function buildOption(): any {
  const grid: any[] = [];
  const xAxis: any[] = [];
  const yAxis: any[] = [];
  const series: any[] = [];
  const eMin = energyTicks[0];
  const eMax = energyTicks[energyTicks.length - 1];
  const eStep = energyTicks[1] - energyTicks[0];
  PANELS.forEach((p, i) => {
    const [L, T, W, H] = p.rect;
    grid.push({ left: L, top: T, width: W, height: H, containLabel: false });
    xAxis.push({
      gridIndex: i, type: "value", min: eMin, max: eMax, interval: eStep,
      axisLine: { show: true, onZero: false, lineStyle: { color: p.xLine, width: 2 } },
      axisTick: { show: true, inside: true, length: 5, lineStyle: { color: p.xLine, width: 1.2 } },
      minorTick: { show: true, splitNumber: 2, length: 3, lineStyle: { color: p.xLine, width: 1 } },
      axisLabel: {
        show: p.xLabels, color: p.xColor, fontFamily: SERIF, fontSize: p.xLabelSize,
        fontWeight: p.xLabelBold ? "bold" : "normal", margin: p.xLabelMargin, formatter: fmt,
      },
      splitLine: { show: false },
    });
    const yLabel: any = {
      color: p.yColor, fontFamily: SERIF, fontSize: p.yLabelSize,
      fontWeight: p.yLabelBold ? "bold" : "normal", margin: 6, formatter: fmt,
      showMaxLabel: p.hideTopLabel ? false : null,
    };
    if (p.minLabelUp) yLabel.verticalAlignMinLabel = "bottom";
    if (p.maxLabelDown) yLabel.verticalAlignMaxLabel = "top";
    yAxis.push({
      gridIndex: i, type: "value", min: p.yRange[0], max: p.yRange[1], interval: 1,
      axisLine: { show: true, onZero: false, lineStyle: { color: p.yLine, width: 2 } },
      axisTick: { show: true, inside: true, length: 4, lineStyle: { color: p.yLine, width: 1.2 } },
      axisLabel: yLabel,
      splitLine: { show: false },
    });
    series.push({
      type: "line", name: "Spin-Up", xAxisIndex: i, yAxisIndex: i, data: p.up,
      smooth: 0.35, smoothMonotone: "x", symbol: "none", silent: true, z: 2,
      lineStyle: { color: p.upLine, width: 2.4 },
      areaStyle: { color: fillOf(p.upFill), opacity: 1 },
    });
    series.push({
      type: "line", name: "Spin-Down", xAxisIndex: i, yAxisIndex: i, data: p.down,
      smooth: 0.35, smoothMonotone: "x", symbol: "none", silent: true, z: 2,
      lineStyle: { color: p.downLine, width: p.downWidth ?? 2.4, type: p.downDashed ? [8, 4] : "solid" },
      areaStyle: { color: fillOf(p.downFill), opacity: 1 },
      markLine: {
        silent: true, symbol: "none", z: 12, animation: false, label: { show: false },
        data: [
          { xAxis: 0, lineStyle: { color: p.efLine, type: [11, 7], width: p.refWidth } },
          { yAxis: 0, lineStyle: { color: p.zeroLine, type: [11, 7], width: p.refWidth } },
        ],
      },
    });
  });
  return { animation: false, backgroundColor: "#fff", grid, xAxis, yAxis, series };
}

function arrowHead(x1: number, y1: number, x2: number, y2: number, color: string, width: number, z: number): any[] {
  const dx = x2 - x1, dy = y2 - y1;
  const len = Math.hypot(dx, dy) || 1;
  const ux = dx / len, uy = dy / len;
  const hl = 9, hw = 4;
  const bx = x2 - ux * hl, by = y2 - uy * hl;
  return [
    { type: "line", silent: true, z, shape: { x1, y1, x2: bx, y2: by }, style: { stroke: color, lineWidth: width } },
    {
      type: "polygon", silent: true, z,
      shape: { points: [[x2, y2], [bx - uy * hw, by + ux * hw], [bx + uy * hw, by - ux * hw]] },
      style: { fill: color },
    },
  ];
}

function buildGraphics(chart: any): any[] {
  const els: any[] = [];
  const frame = "#2a2a2a";
  const hl = (x1: number, x2: number, y: number) => ({ type: "line", silent: true, z: 0, shape: { x1, y1: y, x2, y2: y }, style: { stroke: frame, lineWidth: 1.5 } });
  const vl = (x: number, y1: number, y2: number) => ({ type: "line", silent: true, z: 0, shape: { x1: x, y1, x2: x, y2 }, style: { stroke: frame, lineWidth: 1.5 } });
  els.push(hl(9, 1207, 7), hl(9, 1207, 598), hl(9, 1207, 1186));
  els.push(vl(9, 7, 1186), vl(409, 7, 1186), vl(812, 7, 1186), vl(1207, 7, 1186));

  PANELS.forEach((p, i) => {
    const [L, T, W, H] = p.rect;
    const R = L + W, B = T + H;
    const toPx = (x: number, y: number) => chart.convertToPixel({ gridIndex: i }, [x, y]) as number[];

    // upper and right frame edges
    els.push({ type: "line", silent: true, z: 3, shape: { x1: L, y1: T, x2: R, y2: T }, style: { stroke: p.topColor, lineWidth: 1.5 } });
    els.push({ type: "line", silent: true, z: 3, shape: { x1: R, y1: T, x2: R, y2: B }, style: { stroke: p.rightColor, lineWidth: 1.5 } });

    // legend box
    const lw = 97, lh = 35, lx = R - 8 - lw, ly = T + 3;
    els.push({ type: "rect", silent: true, z: 19, shape: { x: lx + 4, y: ly + 4, width: lw, height: lh }, style: { fill: "#000" } });
    els.push({ type: "rect", silent: true, z: 19, shape: { x: lx, y: ly, width: lw, height: lh }, style: { fill: "#fff", stroke: "#bbb", lineWidth: 1 } });
    els.push({ type: "rect", silent: true, z: 20, shape: { x: lx + 3, y: ly + 3, width: 30, height: 13 }, style: { fill: fillOf(p.upFill), stroke: p.upLine, lineWidth: 2 } });
    els.push({ type: "text", silent: true, z: 20, x: lx + 36, y: ly + 10, style: { text: "Spin-Up", font: `13px ${SERIF}`, fill: "#111", align: "left", verticalAlign: "middle" } });
    els.push({ type: "line", silent: true, z: 20, shape: { x1: lx + 3, y1: ly + 26, x2: lx + 33, y2: ly + 26 }, style: { stroke: p.downLine, lineWidth: 2.5, lineDash: p.downDashed ? [8, 4] : null } });
    els.push({ type: "text", silent: true, z: 20, x: lx + 36, y: ly + 26, style: { text: "Spin-Down", font: `13px ${SERIF}`, fill: "#111", align: "left", verticalAlign: "middle" } });

    // compound label
    els.push({
      type: "text", silent: true, z: 20, x: L + 9, y: T + 7,
      style: {
        text: `{m|${p.compound}}{s|3}`,
        rich: {
          m: { fontSize: 16, fontWeight: "bold", fontFamily: SERIF, fill: p.compoundColor },
          s: { fontSize: 11, fontWeight: "bold", fontFamily: SERIF, fill: p.compoundColor, padding: [8, 0, 0, 0] },
        },
        backgroundColor: "#fff", borderColor: "#333", borderWidth: 1.5, padding: [3, 5, 2, 5],
        align: "left", verticalAlign: "top",
      },
    });

    // pressure label
    els.push({
      type: "text", silent: true, z: 20, x: R - 6, y: T + 47,
      style: {
        text: p.pressure, font: `bold 16px ${SERIF}`, fill: p.pressureColor,
        backgroundColor: "#fff", borderColor: "#333", borderWidth: 1.5, padding: [3, 4, 2, 4],
        align: "right", verticalAlign: "top",
      },
    });

    // Fermi level label
    if (p.ef) {
      const [ex] = toPx(0, 0);
      const fw = p.ef.bold ? "bold" : "normal";
      els.push({
        type: "text", silent: true, z: 20, x: ex + 5, y: T + p.ef.dy,
        style: {
          text: "{e|E}{f|F}",
          rich: {
            e: { fontSize: p.ef.size, fontWeight: fw, fontFamily: SERIF, fill: p.ef.color },
            f: { fontSize: Math.round(p.ef.size * 0.6), fontWeight: fw, fontFamily: SERIF, fill: p.ef.color, padding: [Math.round(p.ef.size * 0.5), 0, 0, 0] },
          },
          align: "left", verticalAlign: "top",
        },
      });
    }

    // spin channel markers
    const ax = L + 20;
    els.push({ type: "text", silent: true, z: 20, x: L + 6, y: T + 38, style: { text: "Spin Up", font: `bold 15px ${SERIF}`, fill: "#333", align: "left", verticalAlign: "top" } });
    els.push(...arrowHead(ax, T + 100, ax, T + 57, "#111", 1.6, 20));
    els.push({ type: "circle", silent: true, z: 20, shape: { cx: ax, cy: T + 81, r: 6 }, style: { fill: "none", stroke: "#333", lineWidth: 1.2 } });
    els.push({ type: "text", silent: true, z: 20, x: L + 4, y: B - 21, style: { text: "Spin Down", font: `bold 15px ${SERIF}`, fill: "#333", align: "left", verticalAlign: "top" } });
    els.push(...arrowHead(ax, B - 72, ax, B - 25, "#111", 1.6, 20));
    els.push({ type: "circle", silent: true, z: 20, shape: { cx: ax, cy: B - 58, r: 6 }, style: { fill: "none", stroke: "#333", lineWidth: 1.2 } });

    // band-gap annotation
    if (p.gap) {
      const g = p.gap;
      const [cx] = toPx(-0.1, 0);
      const boxTop = B - g.top;
      els.push({
        type: "text", silent: true, z: 6, x: cx + 3, y: boxTop,
        style: {
          text: "Semiconducting Gap", font: `bold 16px ${SERIF}`, fill: g.text,
          backgroundColor: "#fff", borderColor: "#333", borderWidth: 1.5, padding: [3, 4, 2, 4],
          align: "center", verticalAlign: "top",
        },
      });
      const [sx] = toPx(g.arrowFrom, 0);
      const [tx, ty] = toPx(g.arrowTo, -0.1);
      els.push(...arrowHead(sx, boxTop, tx, ty, g.arrow, 1.8, 13));
      const [bx1, by] = toPx(g.from, -0.12);
      const [bx2] = toPx(g.to, -0.12);
      els.push({ type: "line", silent: true, z: 20, shape: { x1: bx1, y1: by, x2: bx2, y2: by }, style: { stroke: g.bar, lineWidth: 2 } });
      els.push({ type: "line", silent: true, z: 20, shape: { x1: bx1, y1: by - 3, x2: bx1, y2: by + 3 }, style: { stroke: g.bar, lineWidth: 1.5 } });
      els.push({ type: "line", silent: true, z: 20, shape: { x1: bx2, y1: by - 3, x2: bx2, y2: by + 3 }, style: { stroke: g.bar, lineWidth: 1.5 } });
    }

    // axis titles
    els.push({
      type: "text", silent: true, z: 20, x: L - p.yTitle.dx, y: T + H / 2 - 6, rotation: Math.PI / 2,
      style: { text: "Density of States (States/eV)", font: `bold ${p.yTitle.size}px ${SERIF}`, fill: p.yTitle.color, align: "center", verticalAlign: "middle" },
    });
    if (p.xTitle) {
      els.push({
        type: "text", silent: true, z: 20, x: L + W / 2, y: p.xTitle.y,
        style: { text: "Energy (eV)", font: `bold ${p.xTitle.size}px ${SERIF}`, fill: "#111", align: "center", verticalAlign: "middle" },
      });
    }
  });
  return els;
}

export default function App() {
  const ref = useRef<HTMLDivElement>(null);
  useEffect(() => {
    if (!ref.current) return;
    const chart = echarts.init(ref.current, null, { renderer: "svg" });
    chart.setOption(buildOption());
    chart.setOption({ graphic: { elements: buildGraphics(chart) } });
    return () => chart.dispose();
  }, []);
  return (
    <div
      ref={ref}
      style={{ position: "absolute", left: 0, top: 0, width: 1210, height: 1188, background: "#fff" }}
    />
  );
}
